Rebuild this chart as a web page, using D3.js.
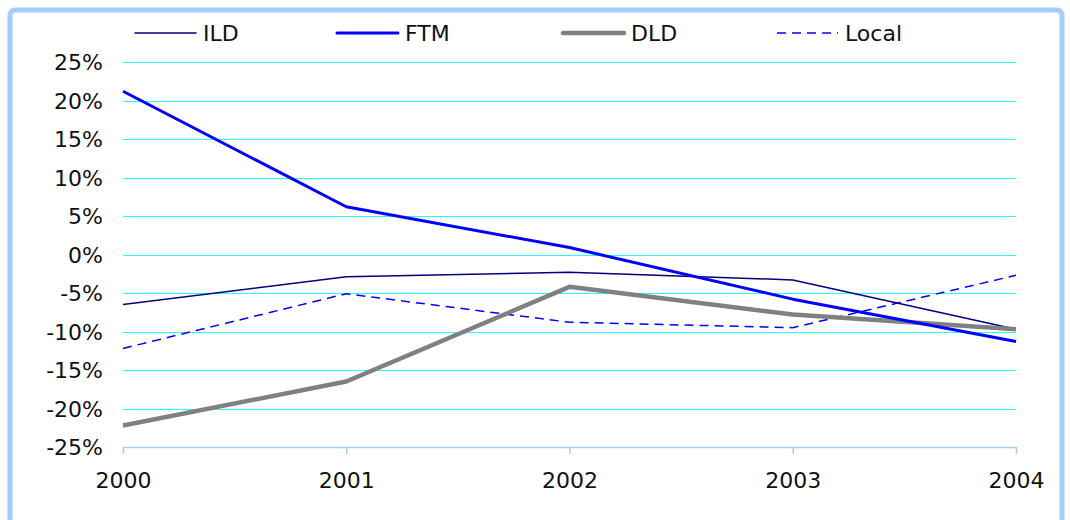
<!DOCTYPE html>
<html><head><meta charset="utf-8">
<script src="https://cdn.jsdelivr.net/npm/d3@7"></script>
<style>body{margin:0;background:#fff}svg{display:block}</style>
</head><body><svg id="c" width="1070" height="520"></svg>
<script>
const years = ["2000","2001","2002","2003","2004"];
const ild   = [-6.5, -2.9, -2.3, -3.3, -9.7];
const ftm   = [21.2, 6.2, 0.9, -5.8, -11.3];
const dld   = [-22.2, -16.5, -4.2, -7.8, -9.7];
const local = [-12.2, -5.1, -8.8, -9.5, -2.7];
const yTicks = [25, 20, 15, 10, 5, 0, -5, -10, -15, -20, -25];
const seriesNames = ["ILD", "FTM", "DLD", "Local"];

const svg = d3.select("#c");
const font = "DejaVu Sans, Verdana, sans-serif";
const L = 123, R = 1016, T = 62, B = 447;
const x = d3.scalePoint().domain(years).range([L, R]);
const y = d3.scaleLinear().domain([-25, 25]).range([B, T]);

// frame
svg.append("rect").attr("x", 10).attr("y", 10).attr("width", 1052).attr("height", 530)
  .attr("rx", 5).attr("fill", "none").attr("stroke", "#a3cdfb").attr("stroke-width", 5);

// grid
svg.append("g").selectAll("line").data(yTicks.filter(d => d !== -25)).join("line")
  .attr("x1", L).attr("x2", R).attr("y1", d => Math.round(y(d)) + 0.5).attr("y2", d => Math.round(y(d)) + 0.5)
  .attr("stroke", "#22ffff").attr("stroke-width", 1).attr("shape-rendering", "crispEdges");

// y labels
svg.append("g").selectAll("text").data(yTicks).join("text")
  .attr("x", 103).attr("y", d => y(d) + 8).attr("text-anchor", "end")
  .attr("font-family", font).attr("font-size", 22).attr("fill", "#111")
  .text(d => d + "%");

// x axis
const xa = svg.append("g").attr("transform", `translate(0,${B})`)
  .call(d3.axisBottom(x).tickSize(7).tickSizeOuter(0).tickPadding(18));
xa.select(".domain").attr("stroke", "#a3cdfb").attr("stroke-width", 1.5);
xa.selectAll(".tick line").attr("stroke", "#a3cdfb").attr("stroke-width", 1.5);
xa.selectAll(".tick text").attr("font-family", font).attr("font-size", 22).attr("fill", "#111");

const styles = [
  {name: "ILD", data: ild, color: "#000080", w: 1.5, dash: null},
  {name: "FTM", data: ftm, color: "#0000ff", w: 3, dash: null},
  {name: "DLD", data: dld, color: "#808080", w: 4.5, dash: null},
  {name: "Local", data: local, color: "#0000ff", w: 1.5, dash: "9,6"}
];
const line = d3.line().x((d, i) => x(years[i])).y(d => y(d));
// draw order: Local, ILD, DLD, FTM
[3, 0, 2, 1].forEach(k => {
  const s = styles[k];
  svg.append("path").datum(s.data).attr("d", line).attr("fill", "none")
    .attr("stroke", s.color).attr("stroke-width", s.w)
    .attr("stroke-dasharray", s.dash).attr("stroke-linejoin", "round");
});

// legend
const legX = [135, 337, 563, 777];
const lg = svg.append("g");
styles.forEach((s, i) => {
  lg.append("line").attr("x1", legX[i]).attr("x2", legX[i] + 61).attr("y1", 33).attr("y2", 33)
    .attr("stroke", s.color).attr("stroke-width", s.w).attr("stroke-dasharray", s.dash)
    .attr("stroke-linecap", s.dash ? "butt" : "round");
  lg.append("text").attr("x", legX[i] + 68).attr("y", 41).attr("font-family", font)
    .attr("font-size", 22).attr("fill", "#111").text(seriesNames[i]);
});
</script></body></html>
